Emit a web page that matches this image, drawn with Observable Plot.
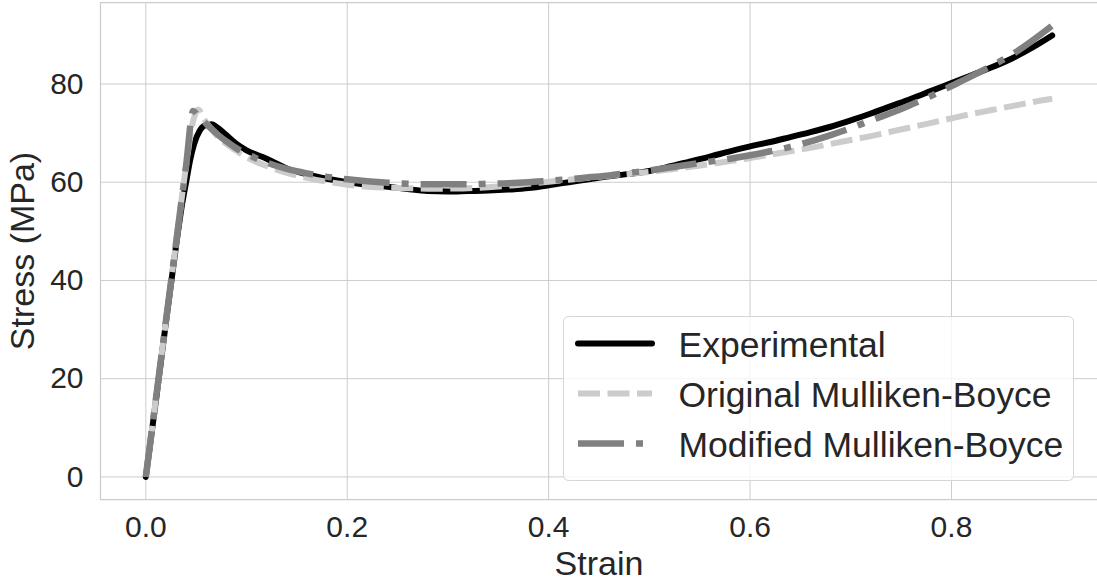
<!DOCTYPE html>
<html>
<head>
<meta charset="utf-8">
<script src="https://cdn.jsdelivr.net/npm/d3@7"></script>
<script src="https://cdn.jsdelivr.net/npm/@observablehq/plot@0.6"></script>
<style>
  html, body { margin: 0; padding: 0; background: #fff; }
  #chart { width: 1097px; height: 583px; overflow: hidden; }
  #chart svg g[aria-label$="axis label"] { font-size: 34px; }
</style>
</head>
<body>
<div id="chart"></div>
<script>
// Tick positions and axis extents
const xTicks = [0, 0.2, 0.4, 0.6, 0.8];
const yTicks = [0, 20, 40, 60, 80];
const xDomain = [-0.045, 0.945];
const yDomain = [-4.6, 96.6];

// Experimental stress–strain curve
const expStrain = [0, 0.01, 0.02, 0.03, 0.036, 0.040, 0.044, 0.048, 0.053, 0.058, 0.065, 0.072, 0.08, 0.09, 0.10,
  0.12, 0.14, 0.16, 0.18, 0.20, 0.22, 0.24, 0.26, 0.28, 0.30, 0.32, 0.34, 0.36, 0.38, 0.40, 0.42, 0.44, 0.46, 0.48,
  0.50, 0.52, 0.54, 0.56, 0.58, 0.60, 0.62, 0.64, 0.66, 0.68, 0.70, 0.72, 0.74, 0.76, 0.78, 0.80, 0.82, 0.84, 0.86,
  0.88, 0.90];
const expStress = [0, 15.5, 31.5, 47, 55.5, 60, 64.5, 67.8, 70.3, 71.5, 71.8, 71.0, 69.6, 67.8, 66.5,
  64.8, 62.8, 61.6, 60.7, 60.0, 59.5, 59.1, 58.6, 58.2, 58.1, 58.2, 58.3, 58.5, 58.8, 59.4, 60.0, 60.6, 61.2, 61.7,
  62.3, 63.2, 64.2, 65.2, 66.3, 67.3, 68.2, 69.2, 70.2, 71.3, 72.6, 74.0, 75.5, 77.0, 78.6, 80.2, 81.8, 83.4, 85.2,
  87.4, 89.9];

// Model curves share one strain grid
const modelStrain = [0, 0.01, 0.02, 0.03, 0.04, 0.047, 0.052, 0.058, 0.065, 0.072, 0.08, 0.09, 0.10,
  0.12, 0.14, 0.16, 0.18, 0.20, 0.22, 0.24, 0.26, 0.28, 0.30, 0.32, 0.34, 0.36, 0.38, 0.40, 0.42, 0.44, 0.46, 0.48,
  0.50, 0.52, 0.54, 0.56, 0.58, 0.60, 0.62, 0.64, 0.66, 0.68, 0.70, 0.72, 0.74, 0.76, 0.78, 0.80, 0.82, 0.84, 0.86,
  0.88, 0.90];
const originalStress = [0, 15.9, 31.8, 47.6, 63.4, 72.5, 74.8, 72.8, 70.8, 69.2, 67.8, 66.4, 65.1,
  63.3, 61.9, 60.9, 60.1, 59.5, 59.1, 58.9, 58.8, 58.7, 58.7, 58.8, 59.0, 59.3, 59.7, 60.1, 60.5, 60.9, 61.3, 61.7,
  62.1, 62.6, 63.1, 63.7, 64.3, 64.9, 65.6, 66.3, 67.0, 67.8, 68.6, 69.4, 70.3, 71.2, 72.1, 73.0, 73.9, 74.7, 75.5,
  76.3, 77.0];
const modifiedStress = [0, 15.9, 31.8, 47.6, 63.4, 74.5, 73.5, 72.3, 70.9, 69.6, 68.3, 66.9, 65.8,
  64.0, 62.7, 61.8, 61.1, 60.6, 60.2, 59.9, 59.7, 59.6, 59.6, 59.6, 59.7, 59.8, 60.0, 60.3, 60.6, 61.0, 61.4, 61.9,
  62.4, 63.0, 63.6, 64.2, 64.8, 65.5, 66.3, 67.2, 68.3, 69.6, 71.0, 72.6, 74.1, 75.8, 77.6, 79.6, 81.6, 83.7, 86.0,
  88.8, 91.9];

const seriesNames = ["Experimental", "Original Mulliken-Boyce", "Modified Mulliken-Boyce"];

// Line styles for each series (used by the marks and the legend swatches)
const styles = {
  "Experimental": {stroke: "#000000", strokeWidth: 6, strokeLinecap: "round", strokeLinejoin: "round", strokeDasharray: null},
  "Original Mulliken-Boyce": {stroke: "#cccccc", strokeWidth: 6, strokeLinecap: "butt", strokeLinejoin: "round", strokeDasharray: "22,7.5"},
  "Modified Mulliken-Boyce": {stroke: "#808080", strokeWidth: 6.5, strokeLinecap: "butt", strokeLinejoin: "round", strokeDasharray: "46,12,7,12"}
};

const toRows = (xs, ys) => xs.map((x, i) => ({strain: x, stress: ys[i]}));
const rows = {
  "Experimental": toRows(expStrain, expStress),
  "Original Mulliken-Boyce": toRows(modelStrain, originalStress),
  "Modified Mulliken-Boyce": toRows(modelStrain, modifiedStress)
};

const spine = {stroke: "#cccccc", strokeWidth: 1.25, strokeOpacity: 1};

const chart = Plot.plot({
  width: 1097,
  height: 583,
  marginLeft: 100,
  marginRight: 0,
  marginTop: 2,
  marginBottom: 84,
  x: {domain: xDomain},
  y: {domain: yDomain},
  style: {fontFamily: "'Liberation Sans', Arial, sans-serif", color: "#262626", background: "#ffffff", overflow: "hidden"},
  marks: [
    Plot.gridX({ticks: xTicks, stroke: "#cccccc", strokeOpacity: 1, strokeWidth: 1}),
    Plot.gridY({ticks: yTicks, stroke: "#cccccc", strokeOpacity: 1, strokeWidth: 1}),
    Plot.ruleX([xDomain[0]], spine),
    Plot.ruleY([yDomain[0], yDomain[1]], spine),
    Plot.axisX({ticks: xTicks, tickSize: 0, tickPadding: 16, tickFormat: d3.format(".1f"), fontSize: 30,
      label: "Strain", labelArrow: "none", labelAnchor: "center", labelOffset: 75}),
    Plot.axisY({ticks: yTicks, tickSize: 0, tickPadding: 17, fontSize: 30,
      label: "Stress (MPa)", labelArrow: "none", labelAnchor: "center", labelOffset: 91}),
    ...seriesNames.map(name => Plot.line(rows[name], {
      x: "strain", y: "stress", curve: "monotone-x",
      ...Object.fromEntries(Object.entries(styles[name]).filter(([, v]) => v != null))
    }))
  ]
});

document.getElementById("chart").appendChild(chart);

// Legend box in the lower right of the plot area
const svg = d3.select(chart);
const legend = svg.append("g")
  .attr("transform", "translate(563.5,316.5)")
  .attr("font-family", "'Liberation Sans', Arial, sans-serif")
  .attr("font-size", 35.5)
  .attr("text-anchor", "start")
  .attr("fill", "#262626");
legend.append("rect")
  .attr("width", 510).attr("height", 164)
  .attr("rx", 5).attr("ry", 5)
  .attr("fill", "#ffffff").attr("fill-opacity", 0.8)
  .attr("stroke", "#d6d6d6").attr("stroke-width", 1);
seriesNames.forEach((name, i) => {
  const s = styles[name];
  const cy = 27 + i * 50;
  const ln = legend.append("line")
    .attr("x1", 14.5).attr("x2", 88.5).attr("y1", cy).attr("y2", cy)
    .attr("stroke", s.stroke).attr("stroke-width", s.strokeWidth)
    .attr("stroke-linecap", s.strokeLinecap);
  if (s.strokeDasharray) ln.attr("stroke-dasharray", s.strokeDasharray);
  legend.append("text")
    .attr("x", 115).attr("y", cy + 13)
    .attr("text-anchor", "start")
    .text(name);
});
</script>
</body>
</html>
